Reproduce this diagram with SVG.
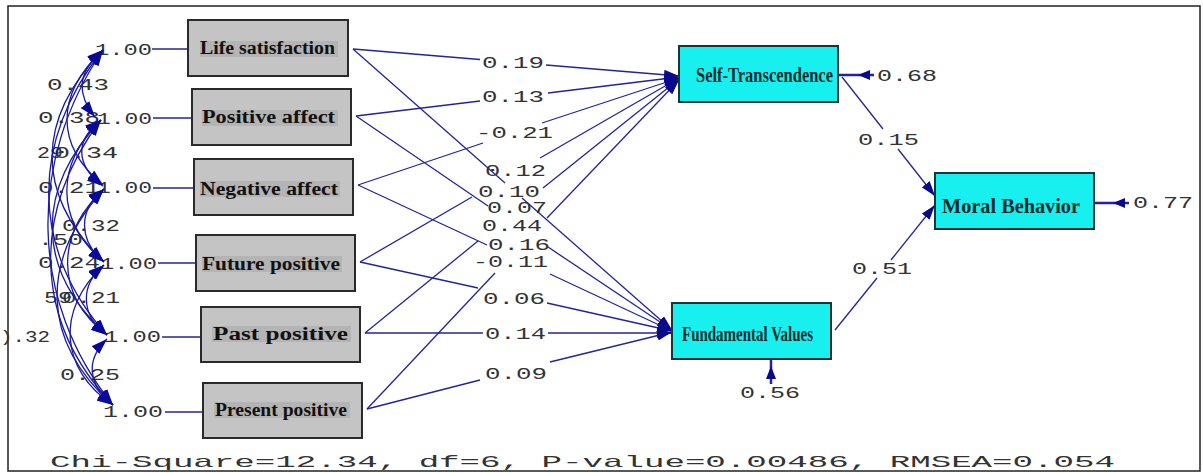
<svg xmlns="http://www.w3.org/2000/svg" width="1203" height="473" viewBox="0 0 1203 473">
  <style>
    .frame { fill: #ffffff; stroke: #222222; stroke-width: 1.5; }
    .obs rect.box { fill: #c4c4c4; stroke: #2a2a2a; stroke-width: 2; }
    .obs rect.hl { fill: #b4b4b4; }
    .obs text { font-family: "Liberation Serif", "Times New Roman", serif; font-weight: bold; font-size: 18.5px; fill: #111111; }
    .lat rect.box { fill: #18f0f0; stroke: #1c3434; stroke-width: 2; }
    .lat text { font-family: "Liberation Serif", "Times New Roman", serif; font-weight: bold; font-size: 21px; fill: #0c2c2c; }
    .edge { stroke: #24249a; stroke-width: 1.3; fill: none; }
    .cov { stroke: #1a1aa0; stroke-width: 1.3; fill: none; }
    .num { font-family: "Liberation Mono", "Courier New", monospace; font-size: 17px; fill: #333333; }
    .head { fill: #0a0a8c; }
  </style>
  <defs>
    <marker id="arrow" viewBox="0 0 15 10" refX="15" refY="5" markerWidth="15" markerHeight="10" markerUnits="userSpaceOnUse" orient="auto">
      <path d="M0,0 L15,5 L0,10 z" fill="#0a0a8c"/>
    </marker>
    <marker id="covEnd" viewBox="0 0 16 11" refX="16" refY="5.5" markerWidth="16" markerHeight="11" markerUnits="userSpaceOnUse" orient="auto">
      <path d="M0,0 L16,5.5 L0,11 z" fill="#0a0a9a"/>
    </marker>
    <marker id="covStart" viewBox="0 0 16 11" refX="0" refY="5.5" markerWidth="16" markerHeight="11" markerUnits="userSpaceOnUse" orient="auto">
      <path d="M16,0 L0,5.5 L16,11 z" fill="#0a0a9a"/>
    </marker>
  </defs>

  <rect class="frame" x="8" y="6" width="1192" height="465"/>

  <!-- unit variances of the predictors -->
  <g id="variances">
    <g class="edge">
      <line x1="152" y1="49" x2="188" y2="49"/>
      <line x1="153" y1="118" x2="192" y2="118"/>
      <line x1="153" y1="188" x2="194" y2="188"/>
      <line x1="158" y1="263" x2="196" y2="263"/>
      <line x1="162" y1="337" x2="201" y2="337"/>
      <line x1="165" y1="412" x2="203" y2="412"/>
    </g>
    <g class="num">
      <text x="95" y="55" textLength="57" lengthAdjust="spacingAndGlyphs">1.00</text>
      <text x="97" y="124" textLength="55" lengthAdjust="spacingAndGlyphs">1.00</text>
      <text x="97" y="193" textLength="55" lengthAdjust="spacingAndGlyphs">1.00</text>
      <text x="100" y="269" textLength="57" lengthAdjust="spacingAndGlyphs">1.00</text>
      <text x="104" y="342" textLength="57" lengthAdjust="spacingAndGlyphs">1.00</text>
      <text x="103" y="417" textLength="60" lengthAdjust="spacingAndGlyphs">1.00</text>
    </g>
  </g>

  <g id="covariance-labels" class="num">
    <text x="47" y="90" textLength="62" lengthAdjust="spacingAndGlyphs">0.43</text>
    <text x="38" y="123" textLength="62" lengthAdjust="spacingAndGlyphs">0.38</text>
    <text x="37" y="158" textLength="26" lengthAdjust="spacingAndGlyphs">29</text>
    <text x="54" y="158" textLength="64" lengthAdjust="spacingAndGlyphs">0.34</text>
    <text x="38" y="193" textLength="62" lengthAdjust="spacingAndGlyphs">0.21</text>
    <text x="62" y="231" textLength="58" lengthAdjust="spacingAndGlyphs">0.32</text>
    <text x="38" y="245" textLength="45" lengthAdjust="spacingAndGlyphs">.50</text>
    <text x="38" y="268" textLength="62" lengthAdjust="spacingAndGlyphs">0.24</text>
    <text x="44" y="303" textLength="28" lengthAdjust="spacingAndGlyphs">59</text>
    <text x="62" y="303" textLength="58" lengthAdjust="spacingAndGlyphs">0.21</text>
    <text x="0" y="342" textLength="50" lengthAdjust="spacingAndGlyphs">).32</text>
    <text x="60" y="380" textLength="60" lengthAdjust="spacingAndGlyphs">0.25</text>
  </g>

  <!-- covariances among the six predictors, drawn over their values -->
  <g id="covariances">
    <path class="cov" marker-start="url(#covStart)" marker-end="url(#covEnd)" d="M103,50 C75,74 78,96 95,117"/>
    <path class="cov" marker-start="url(#covStart)" marker-end="url(#covEnd)" d="M103,50 C55,95 55,145 103,185"/>
    <path class="cov" marker-start="url(#covStart)" marker-end="url(#covEnd)" d="M103,50 C35,120 35,195 104,262"/>
    <path class="cov" marker-start="url(#covStart)" marker-end="url(#covEnd)" d="M103,50 C30,140 30,250 107,335"/>
    <path class="cov" marker-start="url(#covStart)" marker-end="url(#covEnd)" d="M103,50 C28,160 28,300 113,405"/>
    <path class="cov" marker-start="url(#covStart)" marker-end="url(#covEnd)" d="M101,120 C75,140 75,165 103,186"/>
    <path class="cov" marker-start="url(#covStart)" marker-end="url(#covEnd)" d="M101,120 C55,165 55,220 104,262"/>
    <path class="cov" marker-start="url(#covStart)" marker-end="url(#covEnd)" d="M101,120 C35,190 35,270 107,335"/>
    <path class="cov" marker-start="url(#covStart)" marker-end="url(#covEnd)" d="M101,120 C32,210 32,320 113,405"/>
    <path class="cov" marker-start="url(#covStart)" marker-end="url(#covEnd)" d="M104,189 C78,210 78,240 104,262"/>
    <path class="cov" marker-start="url(#covStart)" marker-end="url(#covEnd)" d="M104,189 C55,235 55,295 107,335"/>
    <path class="cov" marker-start="url(#covStart)" marker-end="url(#covEnd)" d="M104,189 C40,260 40,340 113,405"/>
    <path class="cov" marker-start="url(#covStart)" marker-end="url(#covEnd)" d="M104,265 C80,285 80,315 107,335"/>
    <path class="cov" marker-start="url(#covStart)" marker-end="url(#covEnd)" d="M104,265 C55,310 60,370 113,405"/>
    <path class="cov" marker-start="url(#covStart)" marker-end="url(#covEnd)" d="M107,339 C85,360 88,385 113,405"/>
  </g>

  <!-- structural paths, each broken where its coefficient sits -->
  <g id="connectors">
    <g class="edge">
      <!-- Life satisfaction -> Self-Transcendence -->
      <line x1="353" y1="49" x2="480" y2="59.5"/>
      <line x1="546" y1="65" x2="679" y2="76" marker-end="url(#arrow)"/>
      <!-- Positive affect -> Self-Transcendence -->
      <line x1="356" y1="116" x2="480" y2="101"/>
      <line x1="548" y1="93" x2="679" y2="77" marker-end="url(#arrow)"/>
      <!-- Negative affect -> Self-Transcendence -->
      <line x1="358" y1="185" x2="483" y2="143"/>
      <line x1="542" y1="123" x2="679" y2="78" marker-end="url(#arrow)"/>
      <!-- Future positive -> Self-Transcendence -->
      <line x1="360" y1="262" x2="472" y2="197"/>
      <line x1="540" y1="158" x2="679" y2="78" marker-end="url(#arrow)"/>
      <!-- Past positive -> Self-Transcendence -->
      <line x1="365" y1="333" x2="478" y2="241"/>
      <line x1="543" y1="188" x2="679" y2="79" marker-end="url(#arrow)"/>
      <!-- Present positive -> Self-Transcendence -->
      <line x1="367" y1="409" x2="495" y2="273"/>
      <line x1="547" y1="218" x2="679" y2="80" marker-end="url(#arrow)"/>

      <!-- Life satisfaction -> Fundamental Values -->
      <line x1="353" y1="49" x2="505" y2="183"/>
      <line x1="522" y1="198" x2="672" y2="330" marker-end="url(#arrow)"/>
      <!-- Positive affect -> Fundamental Values -->
      <line x1="356" y1="116" x2="488" y2="206"/>
      <line x1="548" y1="247" x2="672" y2="330" marker-end="url(#arrow)"/>
      <!-- Negative affect -> Fundamental Values -->
      <line x1="358" y1="185" x2="487" y2="245"/>
      <line x1="550" y1="274" x2="672" y2="331" marker-end="url(#arrow)"/>
      <!-- Future positive -> Fundamental Values -->
      <line x1="360" y1="262" x2="478" y2="288"/>
      <line x1="547" y1="303" x2="672" y2="331" marker-end="url(#arrow)"/>
      <!-- Past positive -> Fundamental Values -->
      <line x1="365" y1="333" x2="483" y2="333"/>
      <line x1="548" y1="333" x2="672" y2="333" marker-end="url(#arrow)"/>
      <!-- Present positive -> Fundamental Values -->
      <line x1="367" y1="409" x2="480" y2="380"/>
      <line x1="550" y1="362" x2="672" y2="332" marker-end="url(#arrow)"/>

      <!-- Self-Transcendence -> Moral Behavior -->
      <line x1="842" y1="77" x2="883" y2="129"/>
      <line x1="898" y1="149" x2="935" y2="196" marker-end="url(#arrow)"/>
      <!-- Fundamental Values -> Moral Behavior -->
      <line x1="835" y1="330" x2="877" y2="278"/>
      <line x1="891" y1="260" x2="935" y2="205" marker-end="url(#arrow)"/>

      <!-- residuals -->
      <line x1="838" y1="75" x2="874" y2="75" stroke-width="2.5"/>
      <line x1="1094" y1="203" x2="1129" y2="203" stroke-width="2.5"/>
      <line x1="771" y1="359" x2="771" y2="384" stroke-width="2.5"/>
    </g>
    <g class="head">
      <path d="M858,75 L870,70 L870,80 z"/>
      <path d="M1113,203 L1125,198 L1125,208 z"/>
      <path d="M771,366 L766,379 L776,379 z"/>
    </g>
  </g>

  <g id="coefficients" class="num">
    <text x="482" y="68" textLength="62" lengthAdjust="spacingAndGlyphs">0.19</text>
    <text x="482" y="102" textLength="62" lengthAdjust="spacingAndGlyphs">0.13</text>
    <text x="476" y="138" textLength="77" lengthAdjust="spacingAndGlyphs">-0.21</text>
    <text x="485" y="176" textLength="61" lengthAdjust="spacingAndGlyphs">0.12</text>
    <text x="478" y="197" textLength="62" lengthAdjust="spacingAndGlyphs">0.10</text>
    <text x="487" y="213" textLength="60" lengthAdjust="spacingAndGlyphs">0.07</text>
    <text x="482" y="231" textLength="60" lengthAdjust="spacingAndGlyphs">0.44</text>
    <text x="488" y="250" textLength="62" lengthAdjust="spacingAndGlyphs">0.16</text>
    <text x="473" y="267" textLength="75" lengthAdjust="spacingAndGlyphs">-0.11</text>
    <text x="483" y="304" textLength="62" lengthAdjust="spacingAndGlyphs">0.06</text>
    <text x="485" y="339" textLength="61" lengthAdjust="spacingAndGlyphs">0.14</text>
    <text x="485" y="379" textLength="62" lengthAdjust="spacingAndGlyphs">0.09</text>
    <text x="858" y="145" textLength="61" lengthAdjust="spacingAndGlyphs">0.15</text>
    <text x="852" y="274" textLength="60" lengthAdjust="spacingAndGlyphs">0.51</text>
    <text x="877" y="81" textLength="60" lengthAdjust="spacingAndGlyphs">0.68</text>
    <text x="1133" y="208" textLength="60" lengthAdjust="spacingAndGlyphs">0.77</text>
    <text x="740" y="398" textLength="60" lengthAdjust="spacingAndGlyphs">0.56</text>
  </g>

  <!-- observed predictors -->
  <g id="life-satisfaction" class="obs">
    <rect class="box" x="188" y="20" width="160" height="56"/>
    <rect class="hl" x="200" y="41" width="138" height="16"/>
    <text x="200" y="54" textLength="135" lengthAdjust="spacingAndGlyphs">Life satisfaction</text>
  </g>
  <g id="positive-affect" class="obs">
    <rect class="box" x="192" y="89" width="159" height="56"/>
    <rect class="hl" x="202" y="110" width="136" height="16"/>
    <text x="202" y="123" textLength="133" lengthAdjust="spacingAndGlyphs">Positive affect</text>
  </g>
  <g id="negative-affect" class="obs">
    <rect class="box" x="194" y="159" width="159" height="56"/>
    <rect class="hl" x="200" y="181" width="140" height="16"/>
    <text x="200" y="195" textLength="138" lengthAdjust="spacingAndGlyphs">Negative affect</text>
  </g>
  <g id="future-positive" class="obs">
    <rect class="box" x="196" y="235" width="159" height="56"/>
    <rect class="hl" x="202" y="256" width="140" height="16"/>
    <text x="202" y="270" textLength="138" lengthAdjust="spacingAndGlyphs">Future positive</text>
  </g>
  <g id="past-positive" class="obs">
    <rect class="box" x="201" y="307" width="159" height="55"/>
    <rect class="hl" x="212" y="326" width="139" height="16"/>
    <text x="213" y="340" textLength="135" lengthAdjust="spacingAndGlyphs">Past positive</text>
  </g>
  <g id="present-positive" class="obs">
    <rect class="box" x="203" y="383" width="159" height="55"/>
    <rect class="hl" x="214" y="402" width="136" height="16"/>
    <text x="215" y="416" textLength="132" lengthAdjust="spacingAndGlyphs">Present positive</text>
  </g>

  <!-- latent outcomes -->
  <g id="self-transcendence" class="lat">
    <rect class="box" x="679" y="46" width="159" height="56"/>
    <text x="696" y="82" textLength="137" lengthAdjust="spacingAndGlyphs">Self-Transcendence</text>
  </g>
  <g id="fundamental-values" class="lat">
    <rect class="box" x="672" y="303" width="159" height="56"/>
    <text x="682" y="341" textLength="131" lengthAdjust="spacingAndGlyphs">Fundamental Values</text>
  </g>
  <g id="moral-behavior" class="lat">
    <rect class="box" x="935" y="173" width="159" height="56"/>
    <text x="942" y="213" font-size="22" textLength="138" lengthAdjust="spacingAndGlyphs">Moral Behavior</text>
  </g>

  <text class="num" x="50" y="467" font-size="20" fill="#222222" textLength="1065" lengthAdjust="spacingAndGlyphs">Chi-Square=12.34, df=6, P-value=0.00486, RMSEA=0.054</text>
</svg>
